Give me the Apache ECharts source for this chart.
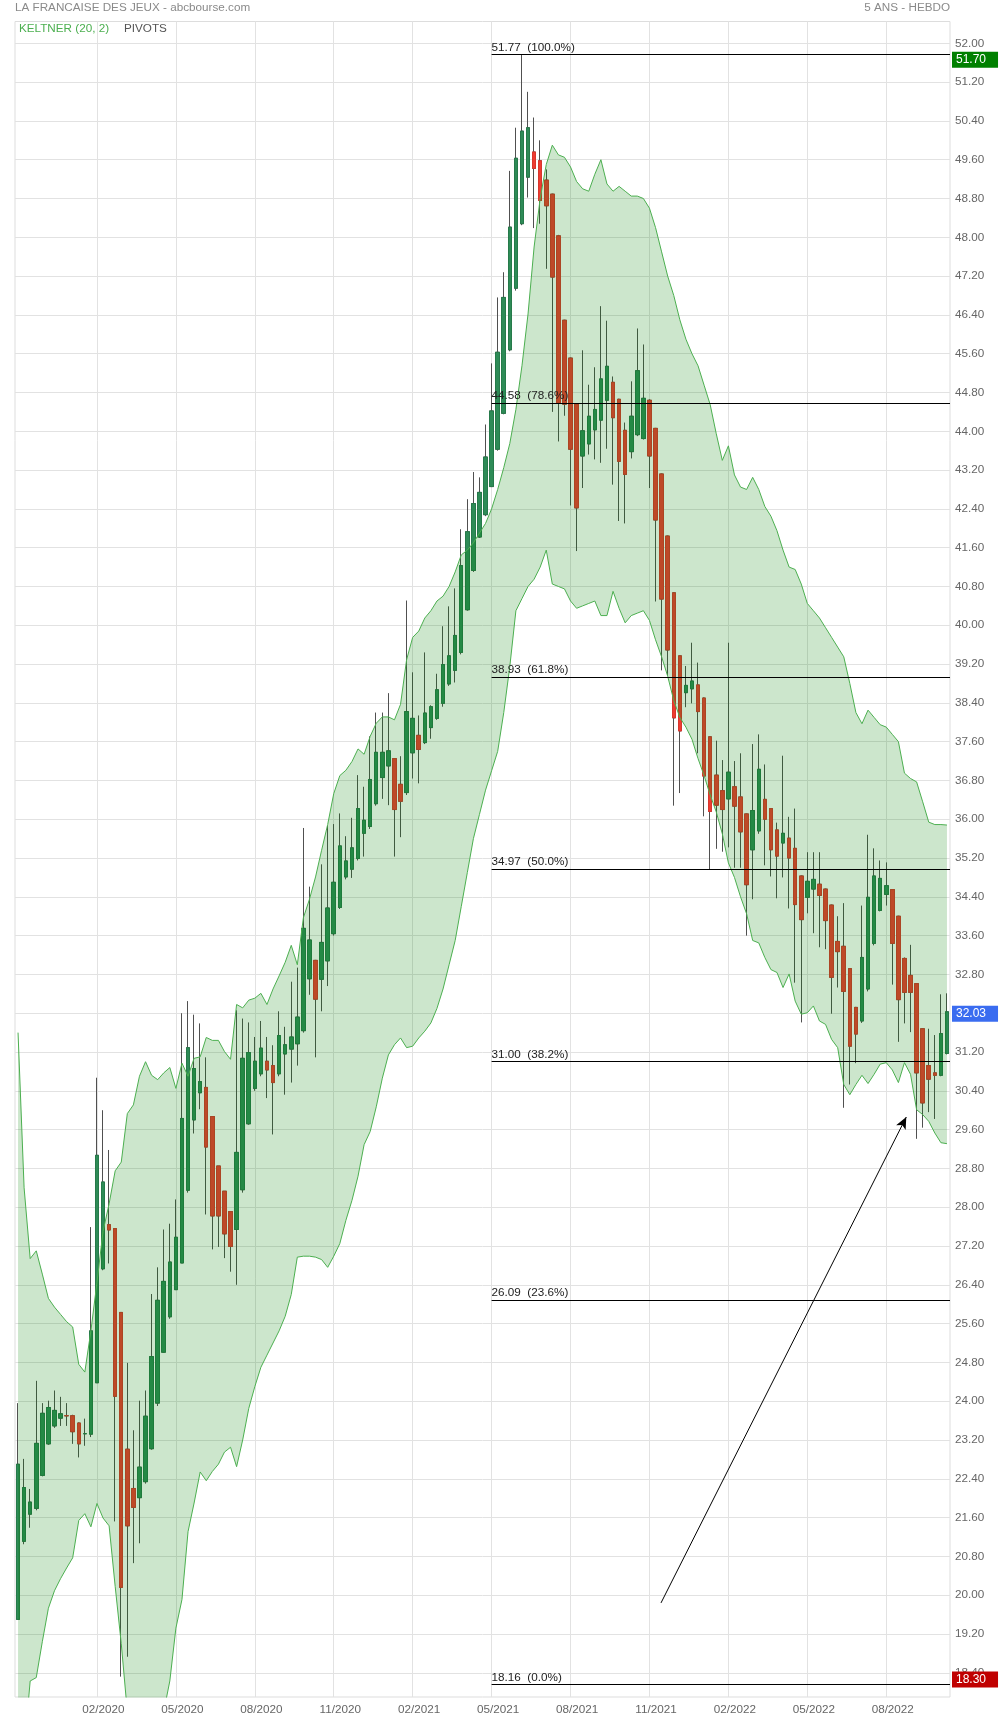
<!DOCTYPE html>
<html><head><meta charset="utf-8">
<script src="https://cdn.jsdelivr.net/npm/echarts@6/dist/echarts.min.js"></script>
<style>html,body{margin:0;padding:0;background:#fff}#c{width:1000px;height:1720px}</style>
</head><body><div id="c"></div>
<script>
// ---- DATA ----
const firstWeek = '2019-11-18';
const openP = [19.50,21.11,21.67,21.79,22.47,23.12,23.49,23.65,23.70,23.70,23.55,23.33,23.32,24.38,26.73,27.64,27.56,25.83,23.01,22.20,
22.01,22.34,23.02,23.96,25.01,25.74,26.30,26.85,28.35,29.80,30.36,30.47,29.87,28.85,28.33,27.91,27.54,28.36,29.72,30.45,
30.75,31.01,30.92,30.75,31.16,31.26,31.37,31.64,32.71,33.09,32.70,33.08,33.64,34.18,34.81,34.97,35.19,35.71,35.85,36.32,
36.86,37.10,37.25,36.72,36.55,37.37,37.73,37.58,37.89,38.08,38.39,38.79,39.07,39.44,40.32,41.13,41.82,42.28,42.86,43.63,
44.37,45.68,46.95,48.28,49.24,49.76,49.58,49.18,48.89,48.03,46.29,45.51,44.56,43.49,43.74,44.03,44.23,44.64,45.01,44.66,
44.02,43.58,43.93,43.85,44.64,44.06,43.12,41.84,40.67,39.37,38.61,38.69,38.77,38.50,37.70,36.91,36.59,36.42,36.67,36.46,
36.11,35.37,35.76,36.41,36.22,35.78,35.51,35.61,35.40,34.83,34.39,34.56,34.66,34.56,34.23,33.48,33.38,32.92,32.12,31.84,
32.50,33.44,34.12,34.45,34.55,34.00,33.13,32.78,32.61,31.68,30.92,30.77,30.72,31.17];
const highP = [23.96,22.81,22.19,24.42,23.96,24.01,24.22,24.09,23.96,23.72,23.56,23.64,27.59,30.67,30.00,29.18,27.56,25.83,24.79,23.40,
24.01,24.22,26.21,26.76,27.54,27.66,28.16,32.00,32.25,31.97,31.79,31.09,29.87,28.85,28.33,27.91,32.06,31.89,31.81,31.51,
31.84,31.51,31.34,32.04,31.72,32.65,32.94,35.82,34.61,33.10,35.07,35.86,35.90,36.12,35.65,36.03,36.91,36.67,37.71,38.20,
38.20,38.60,37.26,37.30,40.51,39.03,38.14,39.44,38.35,39.00,39.98,40.39,40.76,41.98,42.60,43.16,43.05,44.14,45.40,46.76,
47.28,49.37,50.26,51.77,51.00,50.47,50.00,49.40,48.90,48.05,46.30,45.52,44.58,45.67,44.96,45.32,46.58,46.28,45.13,44.67,
44.18,45.03,46.12,45.79,44.66,44.07,43.13,41.85,40.68,39.38,39.16,39.64,39.23,38.51,37.71,37.62,37.22,39.64,37.20,37.36,
36.12,37.55,37.75,37.13,36.23,35.93,37.31,36.05,36.22,34.84,35.32,35.32,35.32,34.57,34.24,34.00,34.27,32.93,32.13,34.22,
35.68,35.40,35.15,35.11,34.56,34.01,33.15,33.41,32.62,31.69,31.68,31.55,32.39,32.41];
const lowP = [19.50,21.05,21.39,21.75,22.45,23.10,23.45,23.49,23.49,23.12,22.84,23.08,23.26,24.38,26.70,26.84,21.52,18.32,18.73,20.66,
21.07,22.30,23.00,23.90,25.00,25.70,26.30,26.85,28.30,29.52,30.02,27.85,27.13,27.18,26.95,26.67,26.40,28.30,29.70,30.40,
30.70,30.25,29.50,30.70,30.32,30.57,30.92,31.60,32.38,31.09,32.04,32.56,33.60,34.15,34.76,34.79,35.15,35.23,35.80,36.28,
36.42,36.29,35.23,35.63,36.50,36.84,36.74,37.55,37.66,38.05,38.32,38.75,38.82,39.40,40.30,41.10,41.80,42.25,42.85,43.60,
44.35,45.65,46.90,48.25,48.82,48.19,48.28,47.35,44.40,43.79,44.32,42.47,41.53,42.83,43.52,43.42,43.35,43.64,42.90,42.15,
42.10,43.44,43.90,43.83,42.83,40.49,39.07,38.97,36.28,36.54,38.31,38.39,37.36,36.06,34.97,35.39,35.33,35.42,35.00,35.00,
33.60,34.35,35.70,35.05,34.82,34.37,34.80,34.16,32.63,31.81,34.06,33.65,33.36,33.32,31.99,32.53,30.05,30.53,30.97,31.80,
32.45,33.40,34.10,34.22,32.59,31.41,31.79,31.61,29.41,29.64,29.96,29.82,30.70,31.15];
const closeP = [22.70,22.22,21.92,23.13,23.75,23.87,23.81,23.74,23.70,23.37,23.12,23.33,25.45,29.07,28.52,27.53,24.10,20.16,21.43,21.81,
22.64,23.69,24.92,26.08,26.47,26.87,27.38,29.83,31.29,30.86,30.59,29.24,27.82,27.82,27.45,27.19,29.13,31.07,31.19,31.01,
31.28,30.83,30.57,31.54,31.35,31.51,31.92,33.75,33.51,32.29,33.46,34.17,34.70,35.45,35.14,35.41,36.22,35.98,36.82,37.38,
37.38,37.41,36.20,36.37,38.22,38.08,37.44,38.19,38.32,38.67,39.19,39.37,39.79,41.23,41.93,42.51,42.74,43.47,44.42,45.63,
46.76,48.21,49.63,50.19,50.26,49.42,48.76,48.65,47.18,44.58,44.56,43.63,42.42,44.01,44.31,44.45,45.08,45.34,44.28,43.38,
43.11,44.31,45.25,44.68,43.49,42.17,40.54,39.49,38.09,37.82,38.76,38.85,38.22,36.89,36.16,36.29,36.20,36.97,36.27,35.74,
34.65,36.18,37.03,36.00,35.37,35.24,35.71,35.20,34.24,33.93,34.72,34.76,34.43,33.91,32.74,33.27,32.45,31.32,31.57,33.15,
34.39,34.83,34.78,34.63,33.44,32.28,32.43,32.43,30.77,30.15,30.64,30.72,31.58,32.03];
const keltnerUpper = [31.60,28.40,26.94,27.10,26.62,26.12,25.94,25.79,25.64,25.53,24.76,24.60,25.45,26.45,27.50,28.07,28.75,28.93,29.93,30.11,
30.70,31.00,30.72,30.63,30.77,30.88,30.45,30.97,30.70,31.07,31.10,31.50,31.44,31.44,31.21,31.05,32.18,32.11,32.27,32.31,
32.41,32.18,32.50,32.77,33.05,33.40,33.00,33.97,34.35,34.81,35.36,35.89,36.53,36.90,37.01,37.19,37.45,37.34,37.71,37.98,
38.11,38.11,38.05,38.37,39.29,39.75,39.88,40.15,40.30,40.50,40.60,40.80,41.10,41.45,41.55,41.70,41.90,42.10,42.40,42.80,
43.25,43.75,44.45,45.35,46.42,47.80,48.80,49.50,49.90,49.70,49.65,49.45,49.15,49.00,48.95,49.30,49.60,49.10,48.95,49.05,
48.95,48.85,48.85,48.80,48.60,48.20,47.70,47.20,46.80,46.30,45.90,45.60,45.35,44.95,44.55,43.95,43.40,43.70,43.10,42.85,
42.80,43.05,42.80,42.45,42.25,41.95,41.55,41.20,41.15,40.85,40.45,40.30,40.15,39.95,39.75,39.55,39.35,38.80,38.20,37.97,
38.25,38.10,37.95,37.90,37.75,37.60,36.95,36.84,36.77,36.36,35.94,35.89,35.89,35.88];
const keltnerLower = [16.00,16.80,18.23,18.30,19.04,19.73,20.09,20.34,20.56,20.77,21.54,21.68,21.41,21.89,21.59,21.43,20.18,19.00,17.60,16.80,
16.30,16.20,16.50,17.00,17.60,18.23,19.32,19.91,21.31,21.90,22.54,22.36,22.55,22.70,22.95,23.05,22.65,23.20,23.85,24.30,
24.70,24.95,25.20,25.45,25.75,26.20,26.97,26.99,26.99,26.97,26.92,26.76,26.99,27.25,27.73,28.14,28.64,29.29,29.56,30.07,
30.66,31.14,31.35,31.49,31.29,31.32,31.49,31.63,31.80,32.10,32.50,33.00,33.50,34.20,34.90,35.60,36.10,36.60,37.00,37.40,
38.20,39.15,40.30,40.55,40.80,40.95,41.20,41.55,40.85,40.80,40.75,40.50,40.35,40.40,40.45,40.50,40.20,40.20,40.70,40.35,
40.05,40.20,40.25,40.30,40.10,39.70,39.35,38.95,38.45,38.10,37.90,37.65,37.25,36.90,36.50,36.15,35.70,35.10,34.80,34.40,
34.05,33.50,33.45,33.15,32.90,32.84,32.53,32.81,32.25,31.98,32.01,32.15,31.84,31.77,31.46,31.29,30.53,30.32,30.53,30.72,
30.55,30.74,30.95,30.98,30.83,30.57,30.98,30.74,30.01,29.91,29.77,29.53,29.33,29.31];
const fibLevels = [51.77, 44.58, 38.93, 34.97, 31.00, 26.09, 18.16];
const fibPercents = ['100.0%', '78.6%', '61.8%', '50.0%', '38.2%', '23.6%', '0.0%'];
const fibStartWeek = 78;
const tagValues = [51.70, 32.03, 18.30];
const arrowFrom = [105.9, 19.84];
const arrowTo = [146.3, 29.86];
const yTicks = [18.40,19.20,20.00,20.80,21.60,22.40,23.20,24.00,24.80,25.60,26.40,27.20,28.00,28.80,29.60,30.40,31.20,32.00,32.80,33.60,
34.40,35.20,36.00,36.80,37.60,38.40,39.20,40.00,40.80,41.60,42.40,43.20,44.00,44.80,45.60,46.40,47.20,48.00,48.80,49.60,50.40,51.20,52.00];
const xLabelEvery = 13;

// ---- BUILD ----
const categories = [];
{
  const d0 = new Date(firstWeek + 'T00:00:00Z');
  for (let i = 0; i < closeP.length; i++) {
    const d = new Date(d0.getTime() + i * 7 * 86400000);
    categories.push(d.toISOString().slice(0, 10));
  }
}
const wickData = openP.map((o, i) => [o, closeP[i], lowP[i], highP[i]]);
const bodyData = openP.map((o, i) => [o, closeP[i], Math.min(o, closeP[i]), Math.max(o, closeP[i])]);
const bandWidth = keltnerUpper.map((u, i) => +(u - keltnerLower[i]).toFixed(2));
const nWeeks = closeP.length;
const showIdx = (idx) => idx >= xLabelEvery && idx % xLabelEvery === 0;
const FONT = '"Liberation Sans", Arial, sans-serif';
const tagColors = ['#008000', '#3a6cf0', '#c00000'];

const chart = echarts.init(document.getElementById('c'), null, {renderer: 'canvas'});
chart.setOption({
  animation: false,
  backgroundColor: '#ffffff',
  textStyle: {fontFamily: FONT},
  title: [
    {text: 'LA FRANCAISE DES JEUX - abcbourse.com', left: 15, top: 2, padding: 0,
     textStyle: {fontSize: 11.7, color: '#8a8a8a', fontWeight: 'normal', fontFamily: FONT}},
    {text: '5 ANS - HEBDO', right: 50, top: 2, padding: 0,
     textStyle: {fontSize: 11.7, color: '#8a8a8a', fontWeight: 'normal', fontFamily: FONT}},
    {text: 'KELTNER (20, 2)', left: 19, top: 23, padding: 0,
     textStyle: {fontSize: 11.7, color: '#4caf50', fontWeight: 'normal', fontFamily: FONT}},
    {text: 'PIVOTS', left: 124, top: 23, padding: 0,
     textStyle: {fontSize: 11.7, color: '#555555', fontWeight: 'normal', fontFamily: FONT}}
  ],
  grid: {left: 15, right: 50, top: 21.5, bottom: 23, show: true, borderColor: '#dddddd', borderWidth: 1, backgroundColor: 'transparent'},
  xAxis: [
    {type: 'category', data: categories, boundaryGap: true,
     axisLine: {show: false}, axisTick: {show: false, alignWithLabel: true, interval: showIdx},
     axisLabel: {interval: showIdx, color: '#666', fontSize: 11.7, margin: 7, fontFamily: FONT, padding: [0, 0, 0, 13],
       formatter: (v) => v.slice(5, 7) + '/' + v.slice(0, 4)},
     splitLine: {show: true, interval: showIdx, alignWithLabel: true, lineStyle: {color: '#e2e2e2', width: 1}}},
    {type: 'value', min: -0.5, max: nWeeks - 0.5, show: false, splitLine: {show: false}}
  ],
  yAxis: {type: 'value', position: 'right', min: 17.9, max: 52.45, scale: true,
    axisLine: {show: false}, axisTick: {show: false, customValues: yTicks},
    axisLabel: {customValues: yTicks, color: '#666', fontSize: 11.7, margin: 5, fontFamily: FONT,
      formatter: (v) => Number(v).toFixed(2)},
    splitLine: {show: true, lineStyle: {color: '#e2e2e2', width: 1}}},
  series: [
    {name: 'wicks', type: 'candlestick', data: wickData, barWidth: 4, z: 2, silent: true,
     itemStyle: {color: '#505050', color0: '#505050', borderColor: '#505050', borderColor0: '#505050', borderWidth: 1}},
    {name: 'bodies', type: 'candlestick', data: bodyData, barWidth: 4, z: 2, silent: true,
     itemStyle: {color: '#2e8b57', color0: '#ee3b32', borderColor: '#267a4a', borderColor0: '#d8362c', borderWidth: 1}},
    {name: 'kLower', type: 'line', data: keltnerLower, stack: 'keltner', symbol: 'none', z: 3, silent: true,
     lineStyle: {color: '#4caf50', width: 1}},
    {name: 'kUpper', type: 'line', data: bandWidth, stack: 'keltner', symbol: 'none', z: 3, silent: true,
     lineStyle: {color: '#4caf50', width: 1}, areaStyle: {color: 'rgba(0,128,0,0.2)', opacity: 1}},
    {name: 'annotations', type: 'line', xAxisIndex: 1, yAxisIndex: 0, data: [[fibStartWeek, fibLevels[0]]],
     symbol: 'none', showSymbol: false, lineStyle: {opacity: 0}, z: 4, silent: true,
     markLine: {silent: true, animation: false, symbol: 'none',
       lineStyle: {color: '#000', width: 1, type: 'solid'},
       label: {show: true, position: 'insideStartTop', distance: [0, 1], color: '#222', fontSize: 11.7, fontFamily: FONT},
       data: fibLevels.map((v, k) => [
         {coord: [fibStartWeek, v], label: {formatter: v.toFixed(2) + '  (' + fibPercents[k] + ')'}},
         {coord: [nWeeks - 0.5, v]}
       ]).concat([[
         {coord: arrowFrom, symbol: 'none', label: {show: false}},
         {coord: arrowTo, symbol: 'arrow', symbolSize: [8, 12]}
       ]])
     }},
    {name: 'tags', type: 'line', xAxisIndex: 1, yAxisIndex: 0, data: [[nWeeks - 0.5, tagValues[1]]], clip: false,
     symbol: 'none', showSymbol: false, lineStyle: {opacity: 0}, z: 5, silent: true,
     markLine: {silent: true, animation: false, symbol: 'none',
       lineStyle: {color: 'rgba(0,0,0,0)', width: 1, opacity: 1},
       label: {show: true, position: 'end', distance: 2, color: '#fff', fontSize: 12, fontFamily: FONT, opacity: 1,
         padding: [2, 12, 1, 4], lineHeight: 13, offset: [0, 2]},
       data: tagValues.map((v, k) => ({yAxis: v, label: {backgroundColor: tagColors[k], formatter: v.toFixed(2)}}))
     }}
  ]
});
</script></body></html>
